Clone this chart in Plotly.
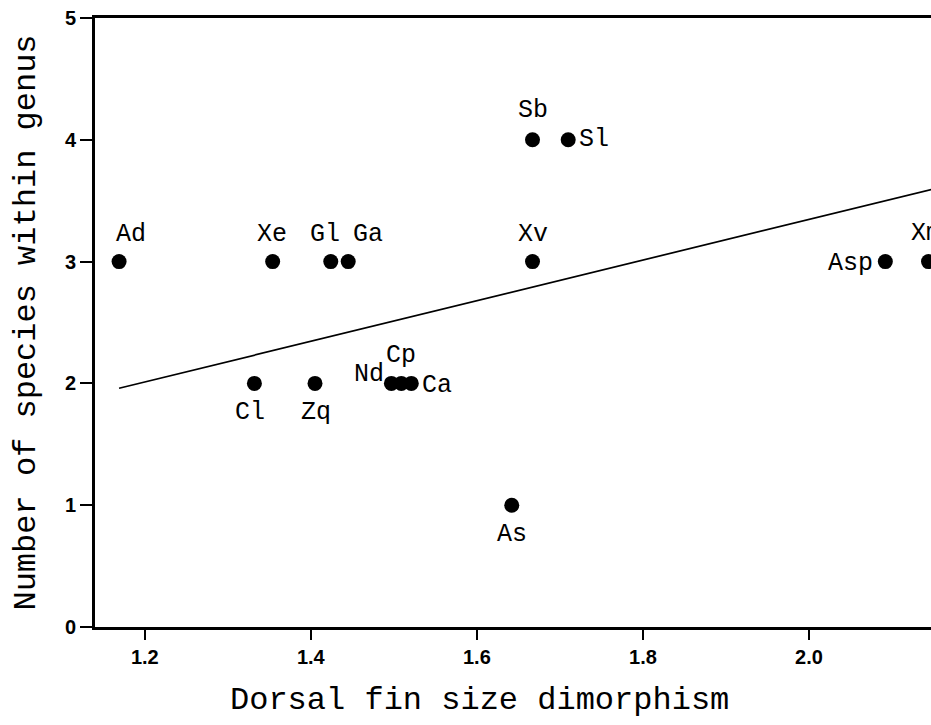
import plotly.graph_objects as go

# ---- data ----
species = ["Ad", "Xe", "Gl", "Ga", "Cl", "Zq", "Nd", "Cp", "Ca", "As", "Xv", "Sb", "Sl", "Asp", "Xm"]
dimorphism = [1.169, 1.354, 1.424, 1.445, 1.332, 1.405, 1.497, 1.509, 1.521, 1.642, 1.667, 1.667, 1.710, 2.092, 2.144]
n_species = [3, 3, 3, 3, 2, 2, 2, 2, 2, 1, 3, 4, 4, 3, 3]
fit_x = [1.169, 2.2]
fit_y = [1.96, 3.68]
x_ticks = [1.2, 1.4, 1.6, 1.8, 2.0]
x_ticklabels = ["1.2", "1.4", "1.6", "1.8", "2.0"]
y_ticks = [0, 1, 2, 3, 4, 5]
x_title = "Dorsal fin size dimorphism"
y_title = "Number of species within genus"

# label placement (style): anchor, xshift, yshift
label_style = {
    "Ad": ("center", 12, 27), "Xe": ("center", -1, 27), "Gl": ("center", -6, 27),
    "Ga": ("center", 20, 27), "Cl": ("center", -4, -29), "Zq": ("center", 1, -29),
    "Nd": ("right", -5, 9), "Cp": ("center", 0, 28), "Ca": ("left", 9, -2),
    "As": ("center", 0, -29), "Xv": ("center", 0, 27), "Sb": ("center", 0, 29),
    "Sl": ("left", 9, 0), "Asp": ("right", -10, -2), "Xm": ("center", -3, 28),
}

mono = "Liberation Mono, Courier New, monospace"
sans = "Liberation Sans, Arial, sans-serif"

fig = go.Figure()
fig.add_trace(go.Scatter(x=fit_x, y=fit_y, mode="lines",
                         line=dict(color="black", width=1.7), hoverinfo="skip"))
fig.add_trace(go.Scatter(x=dimorphism, y=n_species, mode="markers",
                         marker=dict(color="black", size=15), text=species))

for name, xv, yv in zip(species, dimorphism, n_species):
    anchor, xs, ys = label_style[name]
    fig.add_annotation(x=xv, y=yv, text=name, showarrow=False,
                       xanchor=anchor, yanchor="middle", xshift=xs, yshift=ys,
                       font=dict(family=mono, size=25, color="black"))

# x-axis title placed as a paper annotation (centred like the reference)
fig.add_annotation(xref="paper", yref="paper", x=0.4605, y=0, yshift=-73,
                   xanchor="center", yanchor="middle", showarrow=False,
                   text=x_title, font=dict(family=mono, size=32, color="black"))

fig.update_layout(
    width=931, height=725,
    margin=dict(l=95, r=0, t=18, b=98),
    paper_bgcolor="white", plot_bgcolor="white",
    showlegend=False,
    xaxis=dict(range=[1.14, 2.147], tickvals=x_ticks, ticktext=x_ticklabels,
               showgrid=False, zeroline=False, showline=True, mirror=True,
               linecolor="black", linewidth=3, ticks="outside", ticklen=10,
               tickwidth=2, tickcolor="black",
               tickfont=dict(family=sans, size=20, color="black", weight="bold")),
    yaxis=dict(range=[0, 5], tickvals=y_ticks, showgrid=False, zeroline=False,
               showline=True, linecolor="black", linewidth=3, ticks="outside",
               ticklen=12, tickwidth=2, tickcolor="black",
               tickfont=dict(family=sans, size=20, color="black", weight="bold"),
               title=dict(text=y_title,
                          font=dict(family=mono, size=32, color="black"), standoff=20)),
)

fig.write_html("out.html", config={"displayModeBar": False},
               post_script="document.body.style.margin='0';document.body.style.overflow='hidden';")
